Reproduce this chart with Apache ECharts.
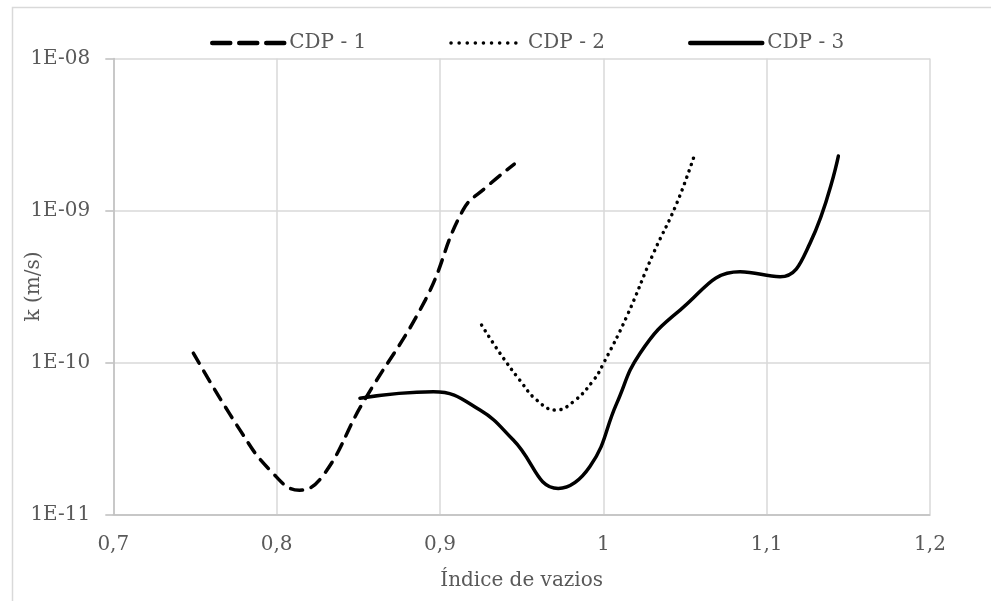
<!DOCTYPE html>
<html>
<head>
<meta charset="utf-8">
<script src="https://cdn.jsdelivr.net/npm/echarts@6/dist/echarts.min.js"></script>
<style>
html,body{margin:0;padding:0;background:#fff;}
#chart{width:991px;height:601px;}
</style>
</head>
<body>
<div id="chart"></div>
<script>
// Data
var seriesNames = ['CDP - 1', 'CDP - 2', 'CDP - 3'];
var cdp1E = [0.749, 0.7776, 0.796, 0.814, 0.8286, 0.852, 0.891, 0.914, 0.9286, 0.9455];
var cdp1K = [1.15e-10, 3.58e-11, 1.95e-11, 1.44e-11, 1.81e-11, 5.24e-11, 2.57e-10, 1.0e-9, 1.43e-9, 2.02e-9];
var cdp2E = [0.9255, 0.9367, 0.949, 0.9592, 0.971, 0.9816, 0.9939, 1.0, 1.0143, 1.0306, 1.0449, 1.0562];
var cdp2K = [1.76e-10, 1.15e-10, 7.6e-11, 5.65e-11, 4.85e-11, 5.5e-11, 7.6e-11, 9.8e-11, 2.0e-10, 5.2e-10, 1.11e-9, 2.38e-9];
var cdp3E = [0.851, 0.896, 0.9245, 0.9449, 0.9724, 0.9918, 1.0082, 1.0225, 1.047, 1.0837, 1.1082, 1.1265, 1.1439];
var cdp3K = [5.8e-11, 6.4e-11, 4.85e-11, 3.08e-11, 1.48e-11, 2.06e-11, 5.37e-11, 1.15e-10, 2.21e-10, 3.95e-10, 3.66e-10, 6.07e-10, 2.28e-9];
var xTickValues = [0.7, 0.8, 0.9, 1.0, 1.1, 1.2];
var xTickLabels = ['0,7', '0,8', '0,9', '1', '1,1', '1,2'];
var yTickExps = [-11, -10, -9, -8];
var yTickLabels = ['1E-11', '1E-10', '1E-09', '1E-08'];
var xTitle = 'Índice de vazios';
var yTitle = 'k (m/s)';

function zip(a, b) { return a.map(function (v, i) { return [v, b[i]]; }); }

var FONT = 'DejaVu Serif';
var TXT = '#595959';
var dash1 = [12, 9];
var dot2 = [0.1, 6.6];

var chart = echarts.init(document.getElementById('chart'), null, {renderer: 'canvas'});
var lineBase = {type: 'line', smooth: 0.45, symbol: 'none', showSymbol: false, silent: true};

chart.setOption({
  backgroundColor: '#ffffff',
  animation: false,
  graphic: [{
    type: 'rect', left: 10, top: 5, silent: true,
    shape: {x: 0, y: 0, width: 1100, height: 700},
    style: {fill: 'none', stroke: '#d9d9d9', lineWidth: 1.5}
  }],
  legend: {
    left: 205, top: 28, itemWidth: 72, itemHeight: 14, itemGap: 83,
    itemStyle: {opacity: 0},
    lineStyle: {width: 4},
    textStyle: {fontFamily: FONT, fontSize: 20, color: TXT},
    data: [
      {name: seriesNames[0], lineStyle: {width: 4.5, type: [18, 9], cap: 'round'}, itemStyle: {opacity: 0}},
      {name: seriesNames[1], lineStyle: {width: 3.5, type: [0.1, 8], cap: 'round'}, itemStyle: {opacity: 0}},
      {name: seriesNames[2], lineStyle: {width: 4.5, type: 'solid'}, itemStyle: {opacity: 0}}
    ]
  },
  grid: {left: 113.3, right: 61, top: 58.5, bottom: 86.7, containLabel: false},
  xAxis: {
    type: 'value', min: 0.7, max: 1.2, interval: 0.1,
    name: xTitle, nameLocation: 'middle', nameGap: 56, nameMoveOverlap: false,
    nameTextStyle: {fontFamily: FONT, fontSize: 20, color: TXT},
    axisLine: {show: true, lineStyle: {color: '#bfbfbf', width: 1.5}},
    axisTick: {show: false},
    axisLabel: {
      margin: 20, fontFamily: FONT, fontSize: 20, color: TXT,
      formatter: function (v) {
        for (var i = 0; i < xTickValues.length; i++) if (Math.abs(v - xTickValues[i]) < 1e-6) return xTickLabels[i];
        return '';
      }
    },
    splitLine: {show: true, lineStyle: {color: '#d9d9d9', width: 1.5}}
  },
  yAxis: {
    type: 'log', logBase: 10, min: 1e-11, max: 1e-8,
    name: yTitle, nameLocation: 'middle', nameGap: 70, nameMoveOverlap: false,
    nameTextStyle: {fontFamily: FONT, fontSize: 20, color: TXT},
    axisLine: {show: true, lineStyle: {color: '#bfbfbf', width: 1.5}},
    axisTick: {show: true, length: 8, lineStyle: {color: '#bfbfbf', width: 1.5}},
    axisLabel: {
      margin: 23, fontFamily: FONT, fontSize: 20, color: TXT,
      formatter: function (v) {
        var e = Math.round(Math.log(v) / Math.LN10);
        var i = yTickExps.indexOf(e);
        return i >= 0 ? yTickLabels[i] : '';
      }
    },
    splitLine: {show: true, lineStyle: {color: '#d9d9d9', width: 1.5}}
  },
  series: [
    Object.assign({}, lineBase, {
      name: seriesNames[0], data: zip(cdp1E, cdp1K),
      itemStyle: {color: '#000'},
      lineStyle: {color: '#000', width: 3.5, type: dash1, cap: 'round'}
    }),
    Object.assign({}, lineBase, {
      name: seriesNames[1], data: zip(cdp2E, cdp2K),
      itemStyle: {color: '#000'},
      lineStyle: {color: '#000', width: 3.5, type: dot2, cap: 'round'}
    }),
    Object.assign({}, lineBase, {
      name: seriesNames[2], data: zip(cdp3E, cdp3K),
      itemStyle: {color: '#000'},
      lineStyle: {color: '#000', width: 3.5, type: 'solid', cap: 'round'}
    })
  ]
});
</script>
</body>
</html>
